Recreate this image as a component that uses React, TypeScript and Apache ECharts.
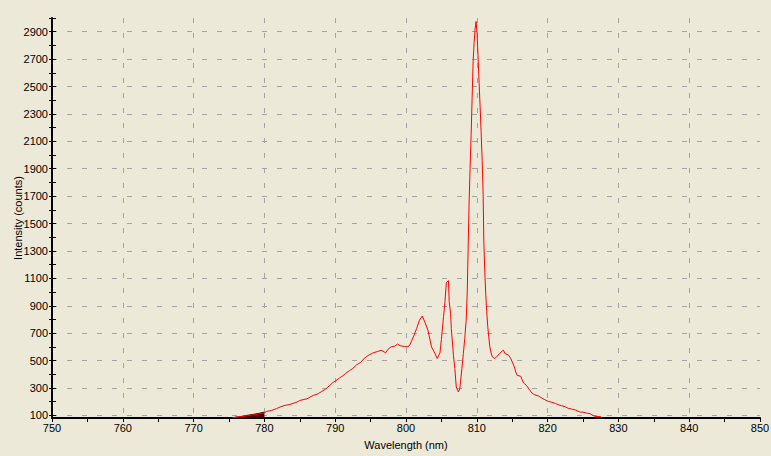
import React, { useEffect, useRef } from "react";
import * as echarts from "echarts";

const wavelengths = [
  775.5, 776.1, 777.0, 778.0, 778.7, 779.4, 780.0, 780.3, 781.0, 781.7, 782.2, 782.9, 783.6, 784.6, 785.0,
  786.0, 786.9, 787.6, 788.1, 788.6, 789.2, 789.7, 790.1, 790.6, 791.1, 791.5, 792.0, 792.5, 793.0, 793.6,
  794.1, 794.6, 795.3, 796.0, 796.5, 796.9, 797.1, 797.5, 797.9, 798.4, 798.8, 799.2, 799.8, 800.3, 800.6,
  800.8, 801.1, 801.5, 801.9, 802.3, 802.7, 803.1, 803.6, 804.1, 804.4, 804.8, 805.0, 805.3, 805.5, 805.7,
  806.0, 806.1, 806.3, 806.4, 806.7, 806.9, 807.1, 807.4, 807.6, 807.9, 808.1, 808.3, 808.5, 808.65, 808.77,
  808.91, 809.05, 809.2, 809.34, 809.48, 809.62, 809.76, 809.9, 810.05, 810.19, 810.33, 810.47, 810.61, 810.76, 810.9,
  810.99, 811.13, 811.27, 811.4, 811.55, 811.69, 811.83, 811.97, 812.2, 812.5, 812.8, 813.2, 813.75, 814.0, 814.5,
  814.8, 815.1, 815.3, 815.5, 815.7, 816.2, 816.4, 816.6, 817.0, 817.4, 817.8, 818.2, 818.7, 819.2, 819.6,
  820.1, 820.6, 821.1, 821.5, 822.0, 822.5, 822.9, 823.4, 823.9, 824.3, 824.6, 825.0, 825.5, 826.0, 826.4,
  826.7, 827.4, 827.7,
];

const intensities = [
  82, 88, 93, 100, 107, 112, 119, 129, 136, 149, 161, 173, 180, 197, 209,
  221, 246, 258, 275, 290, 317, 341, 353, 373, 390, 407, 426, 443, 468, 487,
  516, 536, 555, 567, 575, 565, 555, 585, 600, 605, 620, 608, 603, 600, 620,
  645, 680, 734, 795, 825, 776, 722, 600, 551, 515, 556, 654, 820, 930, 1069,
  1083, 930, 844, 734, 539, 442, 307, 271, 295, 442, 551, 661, 795, 1000, 1300,
  1650, 1900, 2150, 2420, 2680, 2820, 2920, 2975, 2880, 2700, 2520, 2350, 2170, 1960, 1700,
  1380, 1140, 980, 856, 747, 673, 605, 564, 527, 515, 527, 551, 576, 551, 539,
  515, 478, 454, 417, 393, 385, 361, 337, 320, 290, 263, 250, 242, 226, 215,
  202, 196, 187, 178, 170, 163, 152, 146, 140, 131, 124, 124, 117, 112, 100,
  93, 91, 84,
];

const darkWavelengths = [775.5, 776.5, 777.3, 778.0, 778.7, 779.3, 780.0];
const darkIntensities = [84, 90, 98, 104, 110, 116, 124];

const yLabelValues = [100, 300, 500, 700, 900, 1100, 1300, 1500, 1700, 1900, 2100, 2300, 2500, 2700, 2900];
const yTickValues = [
  100, 200, 300, 400, 500, 600, 700, 800, 900, 1000, 1100, 1200, 1300, 1400, 1500,
  1600, 1700, 1800, 1900, 2000, 2100, 2200, 2300, 2400, 2500, 2600, 2700, 2800, 2900, 3000,
];

const Y_MIN = 81;
const Y_MAX = 3000;
const FONT = "Liberation Sans";

export default function App() {
  const ref = useRef<HTMLDivElement>(null);

  useEffect(() => {
    if (!ref.current) return;
    const chart = echarts.init(ref.current, null, { renderer: "svg" });
    const mainData = wavelengths.map((w, i) => [w, intensities[i]]);
    const darkData = darkWavelengths.map((w, i) => [w, darkIntensities[i]]);
    const gridLine = { show: true, lineStyle: { color: "#a3a3a3", width: 1, type: [5, 10] as any } };
    const plain = (v: number) => String(v);

    chart.setOption({
      animation: false,
      backgroundColor: "#ECE9D8",
      grid: { left: 52, right: 11, top: 18, bottom: 38, containLabel: false, outerBoundsMode: "none" },
      xAxis: {
        type: "value",
        min: 750,
        max: 850,
        interval: 10,
        name: "Wavelength (nm)",
        nameLocation: "middle",
        nameGap: 21,
        nameMoveOverlap: false,
        nameTextStyle: { color: "#000", fontFamily: FONT, fontSize: 11 },
        axisLine: { show: true, lineStyle: { color: "#000", width: 2 } },
        axisTick: { show: true, length: 4, lineStyle: { color: "#000" } },
        minorTick: { show: true, splitNumber: 2, length: 4, lineStyle: { color: "#000" } },
        axisLabel: { color: "#000", fontFamily: FONT, fontSize: 11, margin: 4, formatter: plain },
        splitLine: { ...gridLine, showMinLine: false, showMaxLine: false },
      },
      yAxis: [
        {
          type: "value",
          min: Y_MIN,
          max: Y_MAX,
          position: "left",
          offset: 0,
          name: "Intensity (counts)",
          nameLocation: "middle",
          nameGap: 29,
          nameRotate: 90,
          nameMoveOverlap: false,
          nameTextStyle: { color: "#000", fontFamily: FONT, fontSize: 11 },
          axisLine: { show: true, lineStyle: { color: "#000", width: 2 } },
          axisTick: { show: true, length: 3, customValues: yLabelValues, lineStyle: { color: "#000" } },
          axisLabel: { color: "#000", fontFamily: FONT, fontSize: 11, margin: 4, customValues: yLabelValues, formatter: plain },
          splitLine: gridLine,
        },
        {
          type: "value",
          min: Y_MIN,
          max: Y_MAX,
          position: "left",
          offset: 0,
          axisLine: { show: false },
          axisTick: { show: true, length: 3, customValues: yTickValues, lineStyle: { color: "#000" } },
          axisLabel: { show: false },
          splitLine: { show: false },
        },
        {
          type: "value",
          min: Y_MIN,
          max: Y_MAX,
          position: "left",
          offset: 0,
          axisLine: { show: false },
          axisTick: { show: true, inside: true, length: 4, customValues: yTickValues, lineStyle: { color: "#000" } },
          axisLabel: { show: false },
          splitLine: { show: false },
        },
      ],
      series: [
        {
          type: "line",
          data: darkData,
          yAxisIndex: 0,
          showSymbol: false,
          symbol: "none",
          lineStyle: { color: "#4a0000", width: 1 },
          areaStyle: { color: "#4a0000", opacity: 1 },
          z: 2,
        },
        {
          type: "line",
          data: mainData,
          yAxisIndex: 0,
          showSymbol: false,
          symbol: "none",
          lineStyle: { color: "#ff0000", width: 1 },
          z: 3,
        },
      ],
    });
    return () => chart.dispose();
  }, []);

  return (
    <div
      ref={ref}
      style={{ position: "fixed", left: 0, top: 0, width: 771, height: 456 }}
    />
  );
}
